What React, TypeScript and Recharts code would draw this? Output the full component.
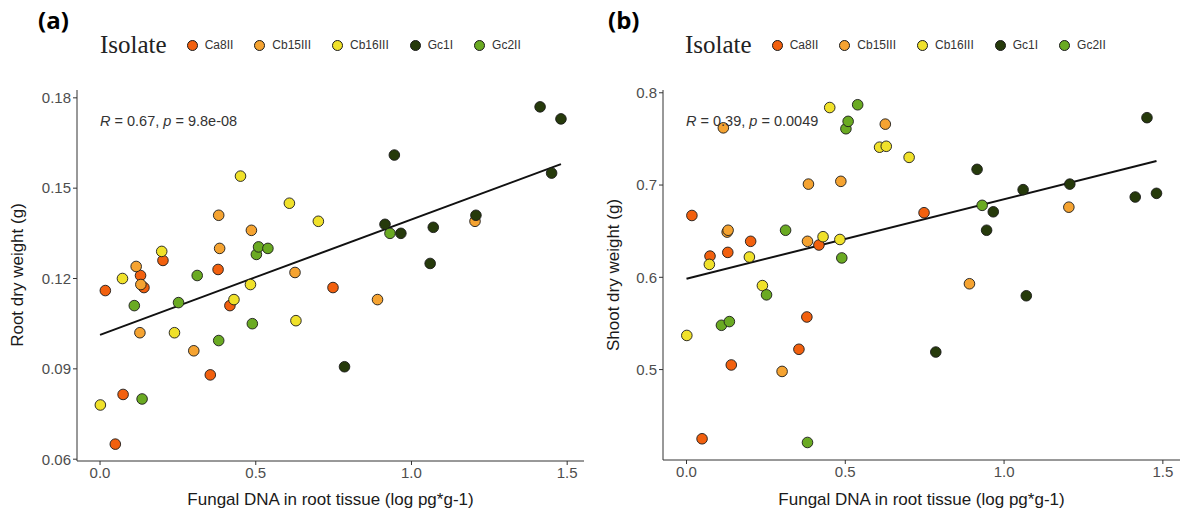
import { FC } from 'react';
import { ReferenceLine, Scatter, ScatterChart, XAxis, YAxis } from 'recharts';

const isolates = ['Ca8II', 'Cb15III', 'Cb16III', 'Gc1I', 'Gc2II'];
const colors = ['#F2600E', '#F5A331', '#F0E12A', '#263A0B', '#6AAA22'];

// fungal DNA (x), shared by both panels
const ca8X = [0.017, 0.049, 0.074, 0.13, 0.141, 0.202, 0.354, 0.379, 0.417, 0.748];
const cb15X = [0.116, 0.128, 0.131, 0.301, 0.381, 0.384, 0.486, 0.626, 0.891, 1.204];
const cb16X = [0.001, 0.072, 0.198, 0.239, 0.43, 0.451, 0.483, 0.608, 0.629, 0.701];
const gc1X = [0.785, 0.915, 0.945, 0.966, 1.06, 1.07, 1.207, 1.413, 1.45, 1.48];
const gc2X = [0.11, 0.135, 0.252, 0.312, 0.381, 0.489, 0.502, 0.509, 0.539, 0.931];

// root dry weight (g)
const ca8Root = [0.116, 0.065, 0.0815, 0.121, 0.117, 0.126, 0.088, 0.123, 0.111, 0.117];
const cb15Root = [0.124, 0.102, 0.118, 0.096, 0.141, 0.13, 0.136, 0.122, 0.113, 0.139];
const cb16Root = [0.078, 0.12, 0.129, 0.102, 0.113, 0.154, 0.118, 0.145, 0.106, 0.139];
const gc1Root = [0.0907, 0.138, 0.161, 0.135, 0.125, 0.137, 0.141, 0.177, 0.155, 0.173];
const gc2Root = [0.111, 0.08, 0.112, 0.121, 0.0994, 0.105, 0.128, 0.1305, 0.13, 0.135];

// shoot dry weight (g)
const ca8Shoot = [0.667, 0.425, 0.623, 0.627, 0.505, 0.639, 0.522, 0.557, 0.635, 0.67];
const cb15Shoot = [0.762, 0.649, 0.651, 0.498, 0.639, 0.701, 0.704, 0.766, 0.593, 0.676];
const cb16Shoot = [0.537, 0.614, 0.622, 0.591, 0.644, 0.784, 0.641, 0.741, 0.742, 0.73];
const gc1Shoot = [0.519, 0.717, 0.651, 0.671, 0.695, 0.58, 0.701, 0.687, 0.773, 0.691];
const gc2Shoot = [0.548, 0.552, 0.581, 0.651, 0.421, 0.621, 0.761, 0.769, 0.787, 0.678];

// lm fit ends
const rootFit = [{ x: 0, y: 0.1013 }, { x: 1.48, y: 0.158 }];
const shootFit = [{ x: 0, y: 0.5985 }, { x: 1.48, y: 0.726 }];

const xTicks = [0, 0.5, 1, 1.5];
const rootTicks = [0.06, 0.09, 0.12, 0.15, 0.18];
const shootTicks = [0.5, 0.6, 0.7, 0.8];

const allX = [ca8X, cb15X, cb16X, gc1X, gc2X];
const allRoot = [ca8Root, cb15Root, cb16Root, gc1Root, gc2Root];
const allShoot = [ca8Shoot, cb15Shoot, cb16Shoot, gc1Shoot, gc2Shoot];

const SANS = '"Liberation Sans", Arial, sans-serif';

const Dot = (props: any) => {
  const { cx, cy, fill } = props;
  if (cx == null || cy == null) return <g />;
  return <circle cx={cx} cy={cy} r={5.3} fill={fill} stroke='#1a1a1a' strokeWidth={0.9} />;
};

interface PanelProps {
  left: number;
  width: number;
  margin: { top: number; right: number; bottom: number; left: number };
  letter: string;
  letterX: number;
  legendX: number;
  yTitle: string;
  yTitleX: number;
  ys: number[][];
  yDomain: [number, number];
  yTicks: number[];
  yDigits: number;
  fit: { x: number; y: number }[];
  r: string;
  p: string;
  statX: number;
}

const Panel: FC<PanelProps> = (pp) => {
  const plotL = pp.margin.left + 60;
  const plotR = pp.width - pp.margin.right;
  return (
    <div style={{ position: 'absolute', left: pp.left, top: 0, width: pp.width, height: 516 }}>
      <ScatterChart width={pp.width} height={516} margin={pp.margin}>
        <XAxis
          type='number'
          dataKey='x'
          domain={[-0.074, 1.554]}
          ticks={xTicks}
          allowDataOverflow
          height={30}
          tickFormatter={(v: number) => v.toFixed(1)}
          tick={{ fill: '#4d4d4d', fontSize: 15, fontFamily: SANS }}
          tickSize={4}
          tickLine={{ stroke: '#333' }}
          axisLine={{ stroke: '#333' }}
        />
        <YAxis
          type='number'
          dataKey='y'
          domain={pp.yDomain}
          ticks={pp.yTicks}
          allowDataOverflow
          width={60}
          tickFormatter={(v: number) => v.toFixed(pp.yDigits)}
          tick={{ fill: '#4d4d4d', fontSize: 15, fontFamily: SANS }}
          tickSize={4}
          tickLine={{ stroke: '#333' }}
          axisLine={{ stroke: '#333' }}
        />
        {isolates.map((name, i) => (
          <Scatter
            key={name}
            name={name}
            data={allX[i].map((x, j) => ({ x, y: pp.ys[i][j] }))}
            fill={colors[i]}
            shape={Dot}
            isAnimationActive={false}
          />
        ))}
        <ReferenceLine
          segment={pp.fit}
          stroke='#111'
          strokeWidth={2}
          ifOverflow='visible'
        />
      </ScatterChart>

      <div style={{ position: 'absolute', left: pp.letterX, top: 3, fontFamily: '"Open Sans", sans-serif', fontWeight: 700, fontSize: 24, color: '#000' }}>
        {pp.letter}
      </div>
      <div style={{ position: 'absolute', left: pp.legendX, top: 31, display: 'flex', alignItems: 'center', whiteSpace: 'nowrap' }}>
        <span style={{ fontFamily: '"Liberation Serif", serif', fontSize: 25, color: '#222', marginRight: 20 }}>Isolate</span>
        {isolates.map((name, i) => (
          <span key={name} style={{ display: 'flex', alignItems: 'center', marginRight: 21 }}>
            <span style={{ width: 9, height: 9, borderRadius: '50%', background: colors[i], border: '1px solid #1a1a1a', marginRight: 7 }} />
            <span style={{ fontFamily: SANS, fontSize: 12, color: '#333' }}>{name}</span>
          </span>
        ))}
      </div>
      <div style={{ position: 'absolute', left: pp.statX, top: 113, fontFamily: SANS, fontSize: 14.5, color: '#333', whiteSpace: 'nowrap' }}>
        <i>R</i> = {pp.r}, <i>p</i> = {pp.p}
      </div>
      <div style={{ position: 'absolute', left: pp.yTitleX, top: 275, transform: 'translate(-50%, -50%) rotate(-90deg)', fontFamily: SANS, fontSize: 17, color: '#1a1a1a', whiteSpace: 'nowrap' }}>
        {pp.yTitle}
      </div>
      <div style={{ position: 'absolute', left: (plotL + plotR) / 2, top: 500, transform: 'translate(-50%, -50%)', fontFamily: SANS, fontSize: 17, color: '#1a1a1a', whiteSpace: 'nowrap' }}>
        Fungal DNA in root tissue (log pg*g-1)
      </div>
    </div>
  );
};

const App: FC = () => {
  return (
    <div style={{ position: 'absolute', left: 0, top: 0, width: 1182, height: 516, background: '#fff' }}>
      <Panel
        left={0}
        width={590}
        margin={{ top: 90, right: 6, bottom: 25, left: 17 }}
        letter='(a)'
        letterX={38}
        legendX={100}
        yTitle='Root dry weight (g)'
        yTitleX={18}
        ys={allRoot}
        yDomain={[0.0594, 0.1826]}
        yTicks={rootTicks}
        yDigits={2}
        fit={rootFit}
        r='0.67'
        p='9.8e-08'
        statX={100}
      />
      <Panel
        left={590}
        width={592}
        margin={{ top: 90, right: 2, bottom: 26, left: 13 }}
        letter='(b)'
        letterX={18}
        legendX={95}
        yTitle='Shoot dry weight (g)'
        yTitleX={24}
        ys={allShoot}
        yDomain={[0.402, 0.803]}
        yTicks={shootTicks}
        yDigits={1}
        fit={shootFit}
        r='0.39'
        p='0.0049'
        statX={96}
      />
    </div>
  );
};

export default App;
